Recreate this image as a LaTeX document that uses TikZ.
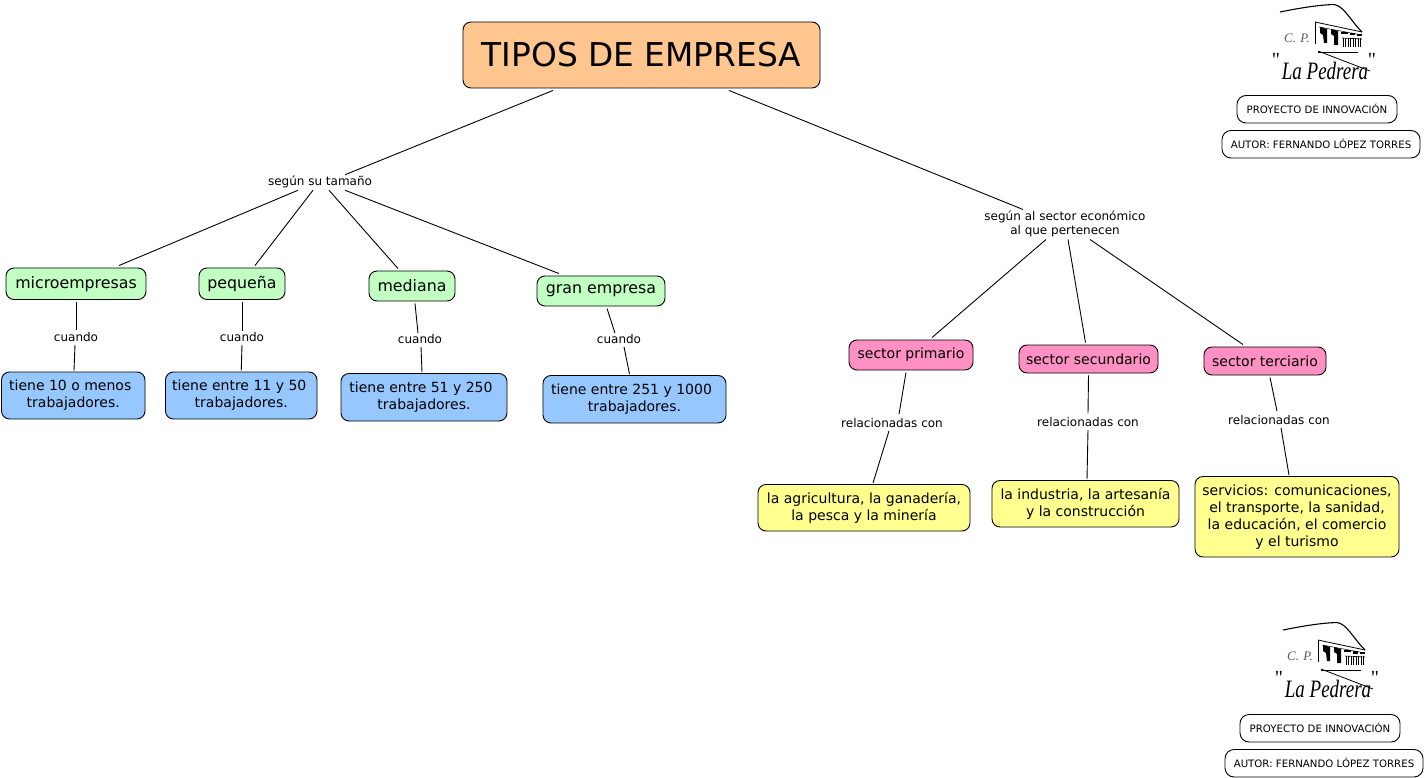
\documentclass[tikz,border=0pt]{standalone}
\usepackage{fontspec}
\setmainfont{DejaVu Sans}
\newfontfamily\logofont{Liberation Serif}
\tikzset{
  x=1pt,y=-1pt,
  box/.style={draw=black,line width=0.9pt,rounded corners=8pt,inner sep=0pt,align=center,text=black},
  green/.style={box,fill=greenfill,font=\fontsize{15.8}{19}\selectfont},
  blue/.style={box,fill=bluefill,font=\fontsize{14}{17}\selectfont},
  pink/.style={box,fill=pinkfill,font=\fontsize{14}{17}\selectfont},
  yellow/.style={box,fill=yellowfill,font=\fontsize{14}{17}\selectfont},
  small/.style={box,fill=white,rounded corners=9pt,font=\fontsize{10.2}{12}\selectfont},
  linking/.style={inner sep=0pt,align=center,font=\fontsize{12}{14.5}\selectfont},
  conn/.style={draw=black,line width=0.9pt},
}
\definecolor{titlefill}{HTML}{FFC690}
\definecolor{greenfill}{HTML}{C2FFC2}
\definecolor{bluefill}{HTML}{96C8FF}
\definecolor{pinkfill}{HTML}{FF90C4}
\definecolor{yellowfill}{HTML}{FFFF90}
\newcommand{\boxat}[7]{\node[#1,minimum width=#5-#3,minimum height=#6-#4] (#2) at ({(#3+#5)/2},{(#4+#6)/2}) {#7};}
\newcommand{\logoat}[2]{%
\begin{scope}[shift={(#1,#2)}]
  \draw[line width=1.1pt] (1280,12) .. controls (1300,8) and (1318,5) .. (1334,4.5) .. controls (1344,6) and (1350,20) .. (1362,32);
  \draw[line width=0.8pt] (1315,22) -- (1362,32);
  \draw[line width=0.5pt] (1319,27) -- (1362,35);
  \draw[line width=0.8pt] (1315,22) -- (1315,44);
  \fill (1320,27) -- (1327,29) -- (1327,43) -- (1324,43) -- (1323,35) -- (1320,33) -- cycle;
  \fill (1331,29) -- (1338,31) -- (1338,45) -- (1334,45) -- (1334,36) -- (1331,34) -- cycle;
  \fill (1341,32) rectangle (1348,34);
  \fill (1350,33) rectangle (1355,35.5);
  \fill (1357,34) rectangle (1362,36);
  \foreach \cx in {1343,1345.5,1348,1350.5,1353,1355.5,1358,1360}
    \draw[line width=0.6pt] (\cx,38) -- (\cx,47);
  \draw[line width=0.6pt] (1342,38) -- (1362,39);
  \draw[line width=0.8pt] (1318,52) -- (1358,52);
  \draw[line width=0.8pt] (1318,51) -- (1370,71);
  \node[inner sep=0pt,font=\logofont\itshape\fontsize{13}{15}\selectfont,text=black!65] (cp#1) at (1297,38) {C.\,\,P.};
  \node[inner sep=0pt,font=\logofont\itshape\fontsize{25}{28}\selectfont] (lp#1) at (1325,71) {\scalebox{0.76}[1]{La Pedrera}};
  \node[inner sep=0pt,font=\logofont\fontsize{20}{24}\selectfont] (qa#1) at (1276,60) {"};
  \node[inner sep=0pt,font=\logofont\fontsize{20}{24}\selectfont] (qb#1) at (1372,60) {"};
\end{scope}}
\newcommand{\trail}[1]{\rule{#1}{0pt}}
\begin{document}
\begin{tikzpicture}
\useasboundingbox (0,0) rectangle (1424,778);
\boxat{box,fill=titlefill,font=\fontsize{32.8}{38}\selectfont}{title}{463}{22}{820}{88}{TIPOS DE EMPRESA}
\node[linking] (tam) at (320,182) {según su tamaño};
\node[linking] (sec) at (1065,224) {según al sector económico\\al que pertenecen};
\boxat{green}{mic}{6}{268}{146}{299.5}{microempresas}
\boxat{green}{peq}{199}{268}{285}{299.5}{pequeña}
\boxat{green}{med}{369}{271}{455}{301}{mediana}
\boxat{green}{gra}{537}{276}{665}{306}{gran empresa}
\node[linking] (c1) at (76,337) {cuando};
\node[linking] (c2) at (242,337) {cuando};
\node[linking] (c3) at (420,339) {cuando};
\node[linking] (c4) at (619,339) {cuando};
\boxat{blue}{b1}{1.5}{372}{145}{419}{tiene 10 o menos\trail{6pt}\\ trabajadores.}
\boxat{blue}{b2}{165.5}{372}{317}{419}{tiene entre 11 y 50\trail{4pt}\\ trabajadores.}
\boxat{blue}{b3}{341}{373.5}{507}{421}{tiene entre 51 y 250\trail{6pt}\\ trabajadores.}
\boxat{blue}{b4}{543}{375.5}{726}{423}{tiene entre 251 y 1000\trail{6pt}\\ trabajadores.}
\boxat{pink}{p1}{849}{340}{973}{370}{sector primario}
\boxat{pink}{p2}{1019}{345}{1158}{373}{sector secundario}
\boxat{pink}{p3}{1204}{347}{1326}{375}{sector terciario}
\node[linking] (r1) at (892,423) {relacionadas con};
\node[linking] (r2) at (1088,422) {relacionadas con};
\node[linking] (r3) at (1279,420) {relacionadas con};
\boxat{yellow}{y1}{758}{484.5}{970}{531}{la agricultura, la ganadería,\\la pesca y la minería}
\boxat{yellow}{y2}{992}{480.5}{1179}{527}{la industria, la artesanía\\y la construcción}
\boxat{yellow}{y3}{1195}{476.5}{1399}{557}{servicios: comunicaciones,\\el transporte, la sanidad,\\la educación, el comercio\\y el turismo}
\boxat{small}{s1}{1237}{95.5}{1397}{123}{\raisebox{-1pt}{PROYECTO DE INNOVACIÓN}}
\boxat{small}{s2}{1222}{130.5}{1420}{158}{\raisebox{-1pt}{AUTOR: FERNANDO LÓPEZ TORRES}}
\boxat{small}{s3}{1240}{714.5}{1400}{742}{\raisebox{-1pt}{PROYECTO DE INNOVACIÓN}}
\boxat{small}{s4}{1225}{749.5}{1423}{777}{\raisebox{-1pt}{AUTOR: FERNANDO LÓPEZ TORRES}}
\logoat{0}{0}
\logoat{3}{618}
\draw[conn] ([xshift=-88.5pt,yshift=-2pt]title.south) -- ([xshift=25pt,yshift=1pt]tam.north);
\draw[conn] ([xshift=87.5pt,yshift=-2pt]title.south) -- ([xshift=-42pt,yshift=1pt]sec.north);
\draw[conn] ([xshift=-22pt,yshift=-2pt]tam.south) -- ([xshift=43pt,yshift=2pt]mic.north);
\draw[conn] ([xshift=-7pt,yshift=-2pt]tam.south) -- ([xshift=13pt,yshift=2pt]peq.north);
\draw[conn] ([xshift=9pt,yshift=-2pt]tam.south) -- ([xshift=-14pt,yshift=2pt]med.north);
\draw[conn] ([xshift=25pt,yshift=-2pt]tam.south) -- ([xshift=-42pt,yshift=2pt]gra.north);
\draw[conn] ([yshift=-2pt]mic.south) -- ([yshift=2pt]c1.north);
\draw[conn] ([xshift=-1pt,yshift=-3pt]c1.south) -- ([xshift=0.75pt,yshift=1pt]b1.north);
\draw[conn] ([yshift=-2pt]peq.south) -- ([yshift=1pt]c2.north);
\draw[conn] ([yshift=-3pt]c2.south) -- ([xshift=0pt,yshift=1pt]b2.north);
\draw[conn] ([xshift=3pt,yshift=-2pt]med.south) -- ([xshift=-2pt,yshift=1pt]c3.north);
\draw[conn] ([xshift=1pt,yshift=-3pt]c3.south) -- ([xshift=-2pt,yshift=1pt]b3.north);
\draw[conn] ([xshift=6pt,yshift=-2pt]gra.south) -- ([xshift=-4pt,yshift=1pt]c4.north);
\draw[conn] ([xshift=5pt,yshift=-3pt]c4.south) -- ([xshift=-5pt,yshift=1pt]b4.north);
\draw[conn] ([xshift=-19pt,yshift=-2pt]sec.south) -- ([xshift=21pt,yshift=2pt]p1.north);
\draw[conn] ([xshift=3pt,yshift=-2pt]sec.south) -- ([xshift=-3pt,yshift=2pt]p2.north);
\draw[conn] ([xshift=25pt,yshift=-2pt]sec.south) -- ([xshift=-22pt,yshift=2pt]p3.north);
\draw[conn] ([xshift=-5pt,yshift=-2pt]p1.south) -- ([xshift=7pt,yshift=4pt]r1.north);
\draw[conn] ([xshift=-3pt,yshift=-3pt]r1.south) -- ([xshift=9pt,yshift=1pt]y1.north);
\draw[conn] ([yshift=-2pt]p2.south) -- ([yshift=4pt]r2.north);
\draw[conn] ([yshift=-3pt]r2.south) -- ([xshift=1.5pt,yshift=1pt]y2.north);
\draw[conn] ([xshift=5pt,yshift=-2pt]p3.south) -- ([xshift=-2pt,yshift=4pt]r3.north);
\draw[conn] ([xshift=2pt,yshift=-3pt]r3.south) -- ([xshift=-8pt,yshift=1pt]y3.north);
\end{tikzpicture}
\end{document}
